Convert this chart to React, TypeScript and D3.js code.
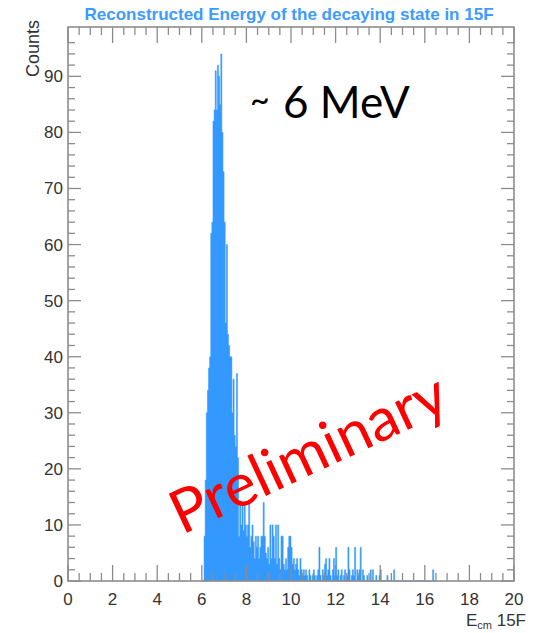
import React from "react";
import * as d3 from "d3";

// histogram: 0.05 MeV bins starting at 6.00 MeV, one array per MeV
const binStart = 6.0;
const binWidth = 0.05;
const counts6 = [0, 0, 8, 18, 30, 34, 38, 40, 62, 64, 82, 84, 91, 84, 92, 90, 85, 94, 80, 73];
const counts7 = [64, 46, 60, 44, 42, 40, 40, 30, 36, 26, 24, 37, 22, 8, 14, 10, 14, 9, 14, 10];
const counts8 = [8, 10, 14, 6, 8, 10, 7, 4, 8, 6, 8, 4, 6, 8, 8, 14, 8, 5, 4, 6];
const counts9 = [3, 10, 4, 10, 8, 4, 10, 3, 10, 4, 2, 8, 8, 3, 2, 4, 2, 6, 8, 8];
const counts10 = [6, 3, 4, 2, 3, 4, 2, 1, 4, 2, 1, 2, 1, 2, 1, 0, 2, 1, 0, 1];
const counts11 = [2, 1, 0, 1, 2, 6, 1, 0, 2, 1, 3, 4, 1, 2, 4, 1, 0, 2, 4, 1];
const counts12 = [6, 1, 2, 0, 1, 2, 0, 1, 2, 0, 1, 6, 2, 0, 1, 2, 1, 6, 0, 2];
const counts13 = [1, 2, 6, 0, 2, 1, 0, 0, 1, 0, 0, 2, 0, 2, 0, 0, 1, 0, 0, 1];
const counts14 = [2, 0, 0, 0, 0, 0, 1, 0, 0, 0, 0, 0, 2, 0, 0, 0, 0, 0, 0, 0];
const counts15 = [0, 0, 0, 0, 0, 0, 0, 0, 0, 0, 0, 0, 0, 0, 0, 0, 0, 0, 0, 0];
const counts16 = [0, 0, 0, 0, 0, 0, 0, 2, 0, 0];

const xTicks = [0, 2, 4, 6, 8, 10, 12, 14, 16, 18, 20];
const yTicks = [0, 10, 20, 30, 40, 50, 60, 70, 80, 90];

const title = "Reconstructed Energy of the decaying state in 15F";

const counts = [
  ...counts6, ...counts7, ...counts8, ...counts9, ...counts10, ...counts11,
  ...counts12, ...counts13, ...counts14, ...counts15, ...counts16,
];

export default function App() {
  const left = 68, right = 514, top = 27, bottom = 581;
  const x = d3.scaleLinear().domain([0, 20]).range([left, right]);
  const y = d3.scaleLinear().domain([0, 98.8]).range([bottom, top]);

  const pts = counts.map((c, i) => ({ e: binStart + i * binWidth, c }));
  pts.push({ e: binStart + counts.length * binWidth, c: 0 });
  const area = d3
    .area<{ e: number; c: number }>()
    .x((d) => x(d.e))
    .y0(y(0))
    .y1((d) => y(d.c))
    .curve(d3.curveStepAfter);

  const xMinor = d3.range(0, 20.01, 0.5);
  const yMinor = d3.range(0, 98, 2);
  const gray = "#8c8c8c";

  return (
    <svg width={541} height={633} style={{ position: "absolute", left: 0, top: 0 }}
      fontFamily="'Liberation Sans', Arial, sans-serif">
      <rect width={541} height={633} fill="#fff" />
      <text x={(left + right) / 2 - 2} y={20} textAnchor="middle" fontSize={17}
        fontWeight="bold" fill="#3d9bff">{title}</text>

      <path d={area(pts) ?? ""} fill="#3399ff" stroke="#3399ff" strokeWidth={0.5} />

      {/* ticks on all four sides */}
      <g stroke={gray} strokeWidth={1.3}>
        {xMinor.map((t) => {
          const major = Math.abs(t % 2) < 1e-6;
          const len = major ? 16 : 8;
          return (
            <g key={"x" + t}>
              <line x1={x(t)} x2={x(t)} y1={bottom} y2={bottom - len} />
              <line x1={x(t)} x2={x(t)} y1={top} y2={top + len} />
            </g>
          );
        })}
        {yMinor.map((t) => {
          const major = t % 10 === 0;
          const len = major ? 13 : 7;
          return (
            <g key={"y" + t}>
              <line x1={left} x2={left + len} y1={y(t)} y2={y(t)} />
              <line x1={right} x2={right - len} y1={y(t)} y2={y(t)} />
            </g>
          );
        })}
      </g>
      <rect x={left} y={top} width={right - left} height={bottom - top}
        fill="none" stroke={gray} strokeWidth={1.6} />

      <g fontSize={17} fill="#333">
        {xTicks.map((t) => (
          <text key={t} x={x(t)} y={605} textAnchor="middle">{t}</text>
        ))}
        {yTicks.map((t) => (
          <text key={t} x={left - 5} y={y(t) + 6} textAnchor="end">{t}</text>
        ))}
        <text transform="translate(39,20) rotate(-90)" textAnchor="end" fontSize={18}>Counts</text>
        <text x={526} y={626} textAnchor="end">
          E<tspan fontSize={11} dy={3}>cm</tspan><tspan dy={-3}> 15F</tspan>
        </text>
      </g>

      <g fontFamily="Lato, 'Open Sans', sans-serif">
        <text x={250} y={112} fontSize={34} fill="#000">~</text>
        <text x={283} y={118} fontSize={44} fill="#000">6 MeV</text>
        <text transform="translate(182,535) rotate(-25)" fontSize={60} fill="#ff0000"
          textLength={298} lengthAdjust="spacingAndGlyphs">Preliminary</text>
      </g>
    </svg>
  );
}
